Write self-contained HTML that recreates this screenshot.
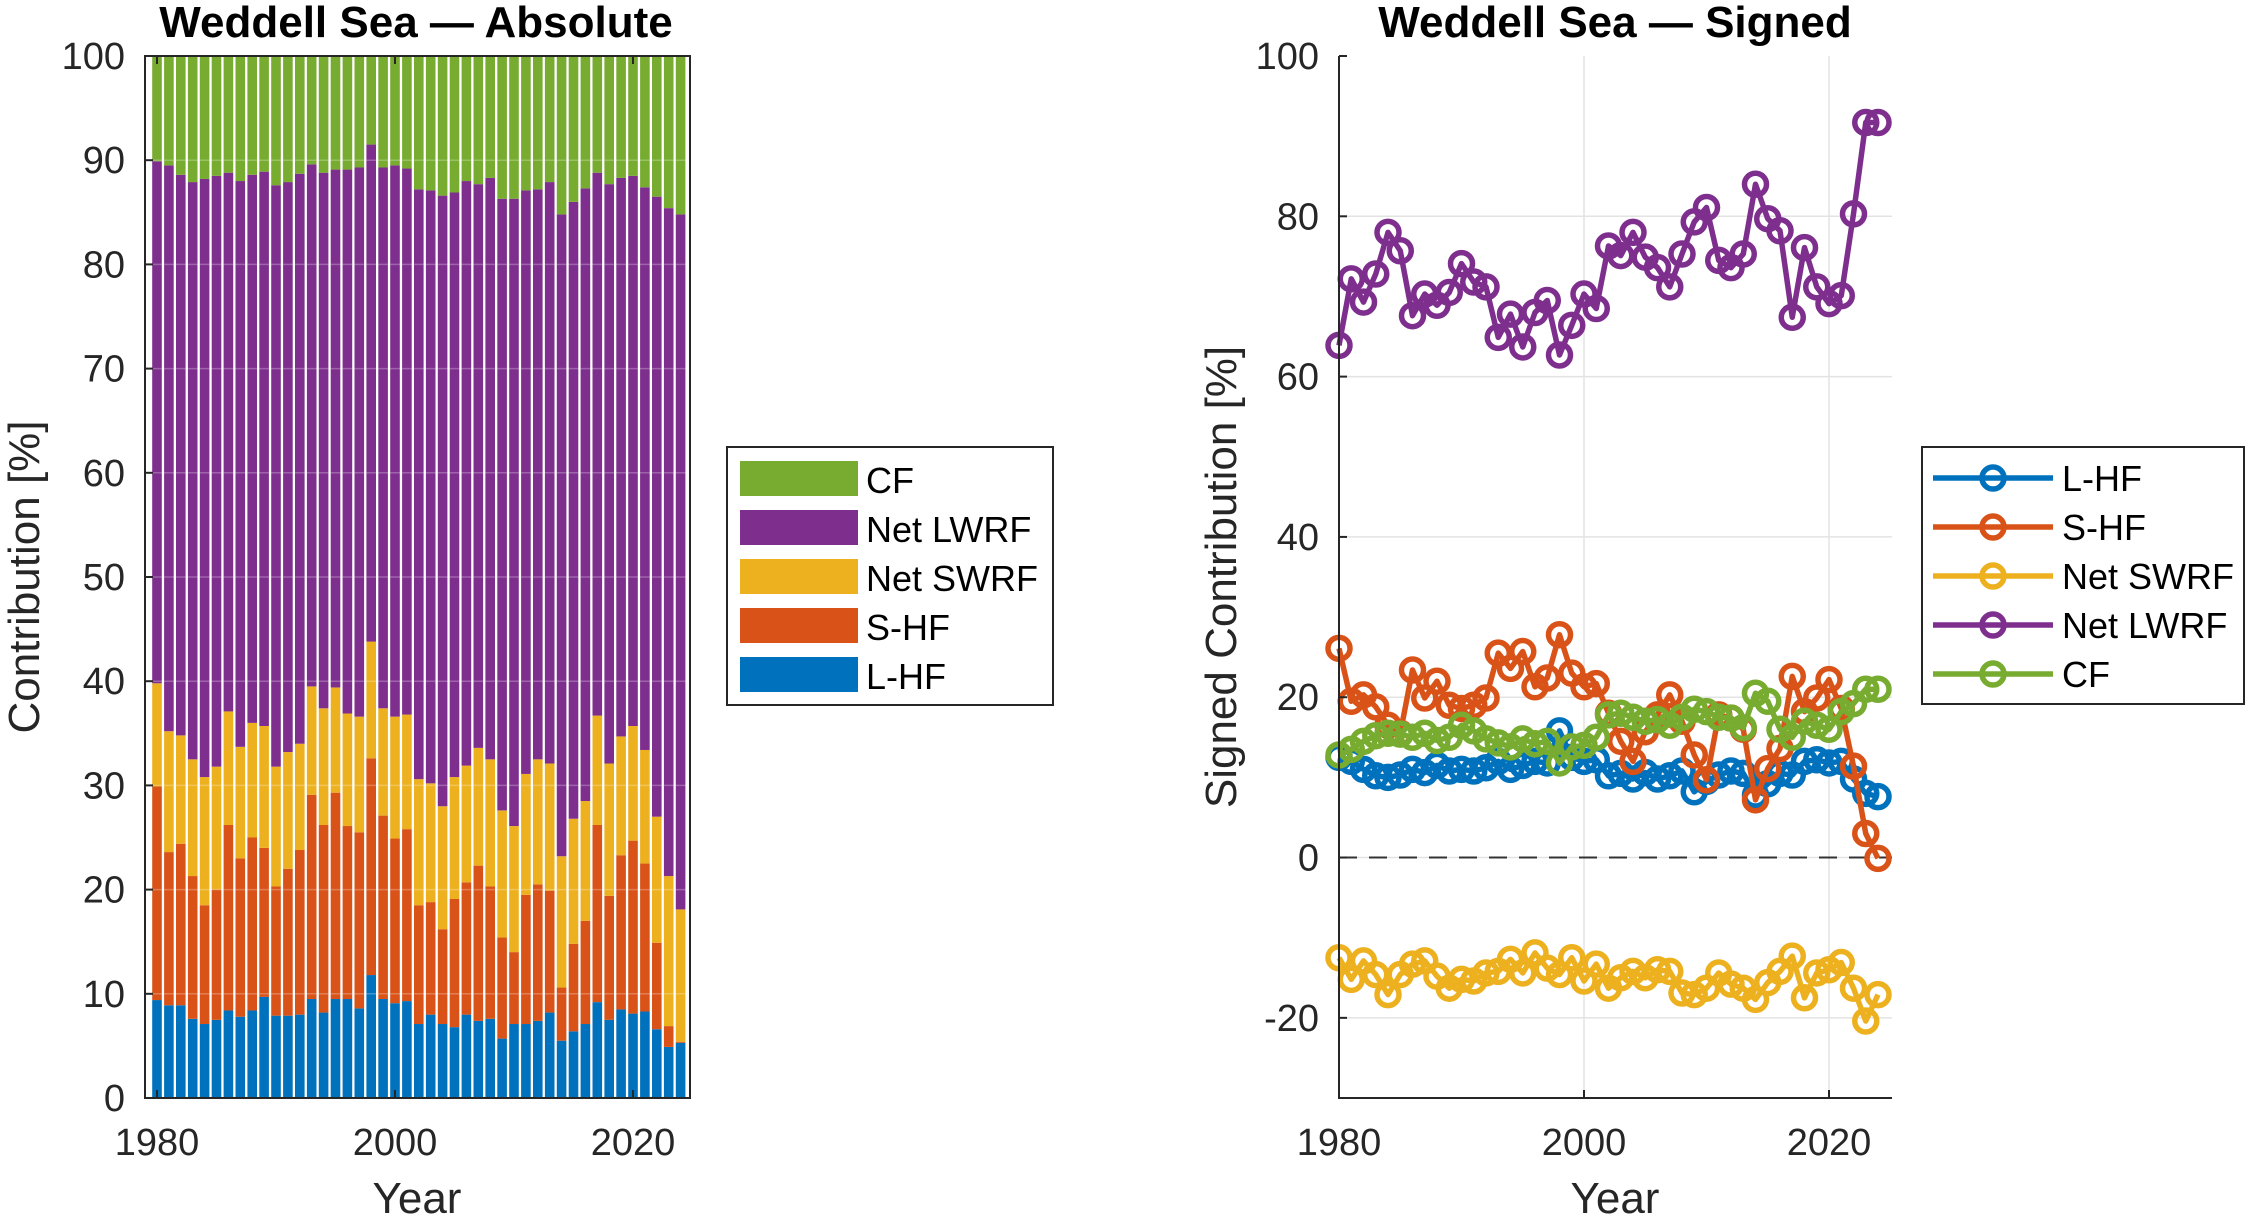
<!DOCTYPE html>
<html><head><meta charset="utf-8"><style>
html,body{margin:0;padding:0;background:#fff;}
svg{display:block;font-family:"Liberation Sans",Arial,sans-serif;}
</style></head><body>
<svg id="fig" width="2253" height="1221" viewBox="0 0 2253 1221" xmlns="http://www.w3.org/2000/svg"></svg>
<script>
const years = [];
for (let y = 1980; y <= 2024; y++) years.push(y);
// Absolute chart: cumulative stack tops (%)
const cumLHF = [9.4,8.9,8.9,7.6,7.1,7.5,8.4,7.8,8.4,9.7,7.9,7.9,8.0,9.5,8.2,9.5,9.5,8.6,11.8,9.5,9.1,9.3,7.1,8.0,7.1,6.8,8.0,7.4,7.6,5.7,7.1,7.1,7.4,8.2,5.5,6.4,7.1,9.2,7.5,8.5,8.1,8.3,6.6,4.9,5.3];
const cumSHF = [29.9,23.6,24.4,21.3,18.5,20.0,26.2,23.0,25.0,24.0,20.3,22.0,23.8,29.1,26.2,29.3,26.1,25.5,32.6,27.1,24.9,25.8,18.5,18.8,16.2,19.1,20.7,22.3,20.3,15.4,14.0,19.5,20.5,19.9,10.6,14.8,17.0,26.2,19.4,23.3,24.7,22.5,14.9,6.9,5.4];
const cumSWRF = [39.8,35.2,34.8,32.5,30.8,31.8,37.1,33.7,36.0,35.7,31.8,33.2,34.0,39.5,37.4,39.4,36.9,36.6,43.8,37.4,36.6,36.8,30.6,30.2,28.0,30.8,31.9,33.6,32.5,27.6,26.1,31.1,32.5,32.1,23.2,26.8,28.5,36.7,32.1,34.7,35.7,33.4,27.0,21.3,18.1];
const cumLWRF = [89.9,89.5,88.6,87.9,88.2,88.5,88.8,88.0,88.6,88.9,87.6,87.9,88.7,89.6,88.8,89.1,89.1,89.3,91.5,89.3,89.5,89.2,87.2,87.1,86.6,86.9,88.0,87.7,88.3,86.3,86.3,87.1,87.2,87.9,84.8,86.0,87.3,88.8,87.7,88.3,88.5,87.4,86.5,85.4,84.8];
// Signed chart series (%)
const sLHF = [12.5,12,11,10.2,10,10.3,11,10.6,11.5,10.8,11,10.8,11.2,12,11,11.5,12,11.8,15.8,12.5,12,12.2,10.2,10.5,9.8,10.6,9.8,10.2,10.8,8.2,9.5,10.3,10.8,10.5,7.8,9.2,10.5,10.3,12,12.2,11.8,12,9.8,8,7.6];
const sSHF = [26.1,19.5,20.3,18.8,16.5,15.5,23.4,19.9,22,19,18.6,19,19.9,25.5,23.6,25.7,21.3,22.4,27.8,23,21.3,21.7,18,14.5,12,15.7,17.8,20.3,17,12.8,9.7,17.8,17.4,16,7.2,11.1,13.6,22.6,18.2,19.9,22.2,18.6,11.4,3.0,-0.1];
const sSWRF = [-12.5,-15.2,-12.9,-14.6,-17.1,-14.6,-13.3,-12.9,-14.8,-16.3,-15.2,-15.4,-14.4,-14.2,-12.7,-14.4,-11.9,-13.8,-14.6,-12.5,-15.4,-13.3,-16.3,-15,-14.2,-15,-14,-14.2,-16.9,-17.1,-16.3,-14.4,-15.8,-16.3,-17.7,-15.6,-14.2,-12.3,-17.5,-14.4,-14,-13.1,-16.3,-20.4,-17.1];
const sLWRF = [63.9,72.2,69.3,72.8,78.0,75.7,67.6,70.3,68.9,70.5,74.1,71.8,71.2,64.9,67.8,63.7,68.0,69.5,62.7,66.4,70.3,68.5,76.3,75.1,78.0,74.9,73.6,71.2,75.3,79.3,81.1,74.5,73.6,75.3,84.0,79.7,78.2,67.4,76.1,71.2,69.1,70.1,80.3,91.7,91.7];
const sCF = [12.8,13.5,14.5,15.2,15.5,15.4,15,15.5,14.6,15,16.5,15.8,14.8,14.3,13.8,14.8,14.2,14.5,11.8,13.8,14,15,17.8,18,17.5,17,17.2,16.5,17.5,18.5,18.2,17.5,17.4,16.2,20.5,19.5,16,15,17,16.5,16,18.2,19.2,21,21];
const leftYTicks = [0,10,20,30,40,50,60,70,80,90,100];
const rightYTicks = [-20,0,20,40,60,80,100];
const xTicks = [1980,2000,2020];

const C = {lhf:'#0072BD', shf:'#D95319', sw:'#EDB120', lw:'#7E2F8E', cf:'#77AC30'};
const NS = 'http://www.w3.org/2000/svg';
const svg = document.getElementById('fig');
function mk(tag, attrs, parent) {
  const e = document.createElementNS(NS, tag);
  for (const k in attrs) e.setAttribute(k, attrs[k]);
  (parent || svg).appendChild(e);
  return e;
}
// ---------- Left axes ----------
const L = {x0:145, x1:690, y0:56, y1:1098};
const lx = y => 157 + (y - 1980) * 11.9;
const ly = v => L.y1 - (v / 100) * (L.y1 - L.y0);
const gL = mk('g', {});


const bw = 9.6;
const layers = [
  {lo: () => 0, hi: i => cumLHF[i], c: C.lhf, n: 'lhf'},
  {lo: i => cumLHF[i], hi: i => cumSHF[i], c: C.shf, n: 'shf'},
  {lo: i => cumSHF[i], hi: i => cumSWRF[i], c: C.sw, n: 'swrf'},
  {lo: i => cumSWRF[i], hi: i => cumLWRF[i], c: C.lw, n: 'lwrf'},
  {lo: i => cumLWRF[i], hi: () => 100, c: C.cf, n: 'cf'}
];
years.forEach((yr, i) => {
  layers.forEach(Ly => {
    const a = ly(Ly.lo(i)), b = ly(Ly.hi(i));
    const r = mk('rect', {x: lx(yr) - bw/2, y: b, width: bw, height: a - b, fill: Ly.c}, gL);
    
    
  });
});
leftYTicks.forEach(v => {
  mk('line', {x1: L.x0, x2: L.x1, y1: ly(v), y2: ly(v), stroke: '#fff', 'stroke-opacity': 0.25, 'stroke-width': 1.5}, gL);
  mk('line', {x1: L.x0, x2: L.x0 + 8, y1: ly(v), y2: ly(v), stroke: '#262626', 'stroke-width': 2}, gL);
  const t = mk('text', {x: 125, y: ly(v) + 13, 'text-anchor': 'end', 'font-size': 38, fill: '#262626'}, gL);
  t.textContent = v;
  
  
});
xTicks.forEach(v => {
  mk('line', {x1: lx(v), x2: lx(v), y1: L.y1, y2: L.y1 - 8, stroke: '#262626', 'stroke-width': 2}, gL);
  mk('line', {x1: lx(v), x2: lx(v), y1: L.y0, y2: L.y0 + 8, stroke: '#262626', 'stroke-width': 2}, gL);
  const t = mk('text', {x: lx(v), y: 1155, 'text-anchor': 'middle', 'font-size': 38, fill: '#262626'}, gL);
  t.textContent = v;
  
  
});
mk('rect', {x: L.x0, y: L.y0, width: L.x1 - L.x0, height: L.y1 - L.y0, fill: 'none', stroke: '#262626', 'stroke-width': 2}, gL);

// ---------- Right axes ----------
const R = {x0:1339, x1:1892, y0:56, y1:1098};
const rx = y => 1339 + (y - 1980) * 12.25;
const ry = v => R.y1 - ((v + 30) / 130) * (R.y1 - R.y0);
const gR = mk('g', {});


[-20, 0, 20, 40, 60, 80].forEach(v => mk('line', {x1: R.x0, x2: R.x1, y1: ry(v), y2: ry(v), stroke: '#e3e3e3', 'stroke-width': 1.5}, gR));
[2000, 2020].forEach(v => mk('line', {x1: rx(v), x2: rx(v), y1: R.y0, y2: R.y1, stroke: '#e3e3e3', 'stroke-width': 1.5}, gR));
const zl = mk('line', {x1: R.x0, x2: R.x1, y1: ry(0), y2: ry(0), stroke: '#333', 'stroke-width': 2, 'stroke-dasharray': '18 12'}, gR);


const series = [
  {d: sLHF, c: C.lhf, n: 'lhf'},
  {d: sSHF, c: C.shf, n: 'shf'},
  {d: sSWRF, c: C.sw, n: 'swrf'},
  {d: sLWRF, c: C.lw, n: 'lwrf'},
  {d: sCF, c: C.cf, n: 'cf'}
];
series.forEach(s => {
  const g = mk('g', {}, gR);
  
  
  const pts = s.d.map((v, i) => rx(years[i]) + ',' + ry(v)).join(' ');
  const pl = mk('polyline', {points: pts, fill: 'none', stroke: s.c, 'stroke-width': 5.5, 'stroke-linejoin': 'round'}, g);
  
  
  s.d.forEach((v, i) => {
    const c = mk('circle', {cx: rx(years[i]), cy: ry(v), r: 11, fill: 'none', stroke: s.c, 'stroke-width': 5.5}, g);
    
    
  });
});
rightYTicks.forEach(v => {
  mk('line', {x1: R.x0, x2: R.x0 + 8, y1: ry(v), y2: ry(v), stroke: '#262626', 'stroke-width': 2}, gR);
  const t = mk('text', {x: 1319, y: ry(v) + 13, 'text-anchor': 'end', 'font-size': 38, fill: '#262626'}, gR);
  t.textContent = v;
  
  
});
xTicks.forEach(v => {
  mk('line', {x1: rx(v), x2: rx(v), y1: R.y1, y2: R.y1 - 8, stroke: '#262626', 'stroke-width': 2}, gR);
  const t = mk('text', {x: rx(v), y: 1155, 'text-anchor': 'middle', 'font-size': 38, fill: '#262626'}, gR);
  t.textContent = v;
  
  
});
mk('polyline', {points: `${R.x0},${R.y0} ${R.x0},${R.y1} ${R.x1},${R.y1}`, fill: 'none', stroke: '#262626', 'stroke-width': 2}, gR);
</script>
<svg style="position:absolute;left:0;top:0" width="2253" height="1221" xmlns="http://www.w3.org/2000/svg" font-family="Liberation Sans, Arial, sans-serif">
  <text x="416" y="37" text-anchor="middle" font-size="44" font-weight="bold" fill="#000">Weddell Sea — Absolute</text>
  <text x="1615" y="37" text-anchor="middle" font-size="44" font-weight="bold" fill="#000">Weddell Sea — Signed</text>
  <text x="417" y="1213" text-anchor="middle" font-size="44" fill="#262626">Year</text>
  <text x="1615" y="1213" text-anchor="middle" font-size="44" fill="#262626">Year</text>
  <text transform="translate(39,577) rotate(-90)" text-anchor="middle" font-size="44" fill="#262626">Contribution [%]</text>
  <text transform="translate(1236,577) rotate(-90)" text-anchor="middle" font-size="44" fill="#262626">Signed Contribution [%]</text>
  <g>
    <rect x="727" y="447" width="326" height="258" fill="#fff" stroke="#262626" stroke-width="2"/>
    <g><rect x="740" y="461" width="118" height="35" fill="#77AC30"/><text x="866" y="493" font-size="36" fill="#000">CF</text></g>
    <g><rect x="740" y="510" width="118" height="35" fill="#7E2F8E"/><text x="866" y="542" font-size="36" fill="#000">Net LWRF</text></g>
    <g><rect x="740" y="559" width="118" height="35" fill="#EDB120"/><text x="866" y="591" font-size="36" fill="#000">Net SWRF</text></g>
    <g><rect x="740" y="608" width="118" height="35" fill="#D95319"/><text x="866" y="640" font-size="36" fill="#000">S-HF</text></g>
    <g><rect x="740" y="657" width="118" height="35" fill="#0072BD"/><text x="866" y="689" font-size="36" fill="#000">L-HF</text></g>
  </g>
  <g stroke-width="5.5" fill="none">
    <rect x="1922" y="447" width="322" height="257" fill="#fff" stroke="#262626" stroke-width="2"/>
    <g><line x1="1933" x2="2053" y1="478" y2="478" stroke="#0072BD"/><circle cx="1993" cy="478" r="11" stroke="#0072BD"/><text x="2062" y="491" font-size="36" fill="#000" stroke="none">L-HF</text></g>
    <g><line x1="1933" x2="2053" y1="527" y2="527" stroke="#D95319"/><circle cx="1993" cy="527" r="11" stroke="#D95319"/><text x="2062" y="540" font-size="36" fill="#000" stroke="none">S-HF</text></g>
    <g><line x1="1933" x2="2053" y1="576" y2="576" stroke="#EDB120"/><circle cx="1993" cy="576" r="11" stroke="#EDB120"/><text x="2062" y="589" font-size="36" fill="#000" stroke="none">Net SWRF</text></g>
    <g><line x1="1933" x2="2053" y1="625" y2="625" stroke="#7E2F8E"/><circle cx="1993" cy="625" r="11" stroke="#7E2F8E"/><text x="2062" y="638" font-size="36" fill="#000" stroke="none">Net LWRF</text></g>
    <g><line x1="1933" x2="2053" y1="674" y2="674" stroke="#77AC30"/><circle cx="1993" cy="674" r="11" stroke="#77AC30"/><text x="2062" y="687" font-size="36" fill="#000" stroke="none">CF</text></g>
  </g>
</svg>
</body></html>
